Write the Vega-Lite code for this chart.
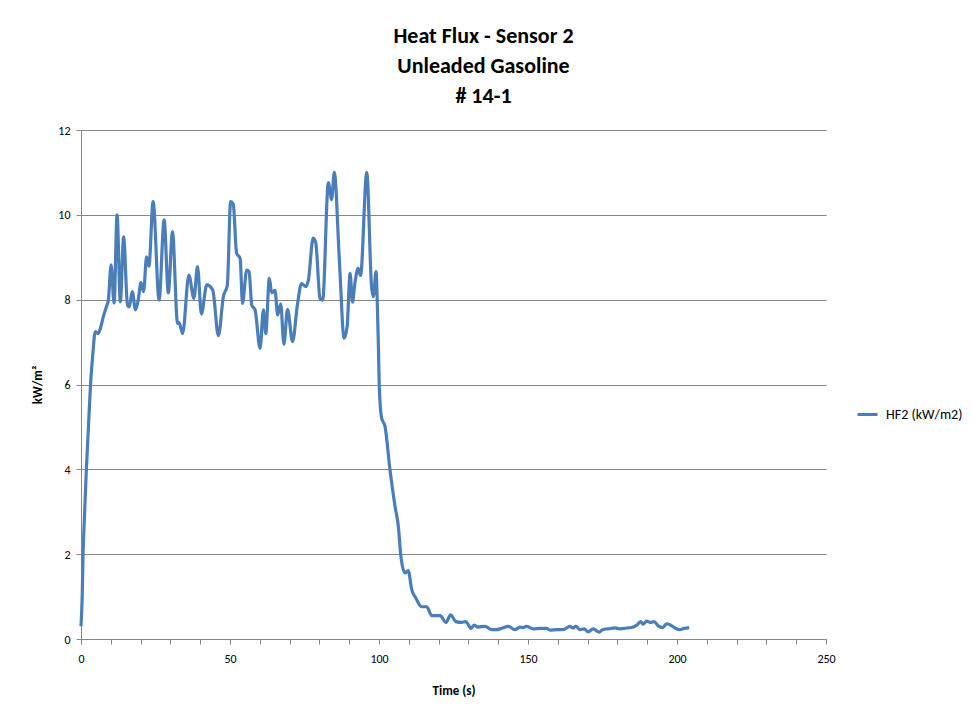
{
  "$schema": "https://vega.github.io/schema/vega-lite/v6.json",
  "width": 745,
  "height": 509,
  "autosize": {"type": "none"},
  "padding": {"left": 81, "top": 130, "right": 148, "bottom": 76},
  "background": "white",
  "config": {
    "view": {"stroke": null},
    "font": "Carlito, 'Liberation Sans Narrow', 'DejaVu Sans Condensed', Roboto, sans-serif"
  },
  "title": {
    "text": ["Heat Flux - Sensor 2", "Unleaded Gasoline", "# 14-1"],
    "fontSize": 22,
    "fontWeight": "bold",
    "color": "#000000",
    "lineHeight": 30,
    "anchor": "middle",
    "dx": 30,
    "offset": 16
  },
  "data": {
    "values": [
      {"t": 0, "v": 0.3}, {"t": 0.4, "v": 1.0}, {"t": 0.7, "v": 2.0}, {"t": 1.2, "v": 2.96}, {"t": 1.8, "v": 4.0},
      {"t": 2.5, "v": 5.0}, {"t": 3.2, "v": 6.0}, {"t": 3.9, "v": 6.66}, {"t": 4.8, "v": 7.25}, {"t": 5.7, "v": 7.2},
      {"t": 6.3, "v": 7.28}, {"t": 7.5, "v": 7.6}, {"t": 8.6, "v": 7.85}, {"t": 9.2, "v": 8.0}, {"t": 10.1, "v": 8.82},
      {"t": 11.1, "v": 7.92}, {"t": 12.1, "v": 10.0}, {"t": 13.2, "v": 7.95}, {"t": 14.3, "v": 9.48}, {"t": 15.6, "v": 7.87},
      {"t": 16.2, "v": 7.83}, {"t": 17.2, "v": 8.19}, {"t": 18.3, "v": 7.76}, {"t": 19.2, "v": 7.99}, {"t": 20.1, "v": 8.4},
      {"t": 21.0, "v": 8.19}, {"t": 22.0, "v": 9.01}, {"t": 22.8, "v": 8.79}, {"t": 24.2, "v": 10.31}, {"t": 26.2, "v": 7.99},
      {"t": 27.9, "v": 9.88}, {"t": 29.3, "v": 8.16}, {"t": 30.7, "v": 9.6}, {"t": 32.4, "v": 7.44}, {"t": 32.9, "v": 7.46},
      {"t": 34.1, "v": 7.2}, {"t": 36.2, "v": 8.58}, {"t": 37.9, "v": 8.03}, {"t": 39.1, "v": 8.78}, {"t": 40.4, "v": 7.66},
      {"t": 42.2, "v": 8.35}, {"t": 44.2, "v": 8.23}, {"t": 46.1, "v": 7.15}, {"t": 47.8, "v": 8.08}, {"t": 49.1, "v": 8.34},
      {"t": 50.2, "v": 10.31}, {"t": 51.1, "v": 10.25}, {"t": 52.2, "v": 9.1}, {"t": 53.4, "v": 8.97}, {"t": 54.2, "v": 7.91},
      {"t": 55.6, "v": 8.7}, {"t": 56.4, "v": 8.66}, {"t": 57.3, "v": 7.87}, {"t": 58.4, "v": 7.76}, {"t": 60.1, "v": 6.85},
      {"t": 61.2, "v": 7.76}, {"t": 62.0, "v": 7.2}, {"t": 63.2, "v": 8.5}, {"t": 64.0, "v": 8.16}, {"t": 65.1, "v": 8.22},
      {"t": 66.0, "v": 7.64}, {"t": 67.0, "v": 7.9}, {"t": 68.1, "v": 6.95}, {"t": 69.3, "v": 7.77}, {"t": 71.0, "v": 7.01},
      {"t": 72.6, "v": 7.87}, {"t": 74.0, "v": 8.38}, {"t": 75.5, "v": 8.31}, {"t": 76.3, "v": 8.46}, {"t": 77.9, "v": 9.45},
      {"t": 78.8, "v": 9.33}, {"t": 80.2, "v": 8.03}, {"t": 81.1, "v": 7.99}, {"t": 83.0, "v": 10.76}, {"t": 84.1, "v": 10.36},
      {"t": 85.0, "v": 11.0}, {"t": 86.7, "v": 8.93}, {"t": 88.3, "v": 7.09}, {"t": 89.3, "v": 7.36}, {"t": 90.3, "v": 8.62},
      {"t": 91.1, "v": 7.94}, {"t": 91.9, "v": 8.38}, {"t": 93.0, "v": 8.74}, {"t": 93.8, "v": 8.57}, {"t": 95.9, "v": 11.0},
      {"t": 97.5, "v": 8.31}, {"t": 98.1, "v": 8.07}, {"t": 99.0, "v": 8.66}, {"t": 99.4, "v": 8.0}, {"t": 99.8, "v": 6.89},
      {"t": 100.1, "v": 5.95}, {"t": 100.9, "v": 5.2}, {"t": 102.0, "v": 5.02}, {"t": 103.7, "v": 3.98}, {"t": 105.4, "v": 3.12},
      {"t": 106.5, "v": 2.65}, {"t": 107.3, "v": 1.98}, {"t": 108.7, "v": 1.56}, {"t": 109.8, "v": 1.61}, {"t": 111.0, "v": 1.16},
      {"t": 112.4, "v": 0.96}, {"t": 114.3, "v": 0.76}, {"t": 116.0, "v": 0.76}, {"t": 117.7, "v": 0.55}, {"t": 120.5, "v": 0.55},
      {"t": 122.5, "v": 0.39}, {"t": 124.0, "v": 0.57}, {"t": 125.8, "v": 0.41}, {"t": 127.7, "v": 0.39}, {"t": 129.1, "v": 0.41},
      {"t": 130.9, "v": 0.25}, {"t": 132.0, "v": 0.33}, {"t": 133.1, "v": 0.28}, {"t": 135.6, "v": 0.3}, {"t": 137.8, "v": 0.22},
      {"t": 139.4, "v": 0.22}, {"t": 141.1, "v": 0.25}, {"t": 143.4, "v": 0.3}, {"t": 145.6, "v": 0.22}, {"t": 147.3, "v": 0.28},
      {"t": 148.4, "v": 0.27}, {"t": 149.5, "v": 0.3}, {"t": 151.8, "v": 0.24}, {"t": 154.0, "v": 0.25}, {"t": 156.2, "v": 0.25},
      {"t": 157.4, "v": 0.21}, {"t": 159.6, "v": 0.22}, {"t": 161.8, "v": 0.22}, {"t": 164.1, "v": 0.3}, {"t": 165.0, "v": 0.26},
      {"t": 166.1, "v": 0.3}, {"t": 167.4, "v": 0.22}, {"t": 168.8, "v": 0.24}, {"t": 170.2, "v": 0.17}, {"t": 171.9, "v": 0.24},
      {"t": 173.9, "v": 0.16}, {"t": 175.0, "v": 0.22}, {"t": 176.9, "v": 0.24}, {"t": 179.2, "v": 0.26}, {"t": 180.8, "v": 0.24},
      {"t": 183.1, "v": 0.26}, {"t": 184.7, "v": 0.27}, {"t": 186.4, "v": 0.32}, {"t": 187.8, "v": 0.41}, {"t": 188.6, "v": 0.35},
      {"t": 189.8, "v": 0.42}, {"t": 191.1, "v": 0.39}, {"t": 192.3, "v": 0.41}, {"t": 193.7, "v": 0.31}, {"t": 195.2, "v": 0.27},
      {"t": 196.5, "v": 0.36}, {"t": 197.8, "v": 0.33}, {"t": 199.3, "v": 0.26}, {"t": 201.0, "v": 0.22}, {"t": 202.3, "v": 0.25},
      {"t": 204.1, "v": 0.27}
    ]
  },
  "mark": {"type": "line", "strokeWidth": 3.2, "interpolate": "monotone"},
  "encoding": {
    "x": {
      "field": "t",
      "type": "quantitative",
      "scale": {"domain": [0, 250], "nice": false, "zero": true},
      "axis": {
        "title": "Time (s)",
        "values": [0, 10, 20, 30, 40, 50, 60, 70, 80, 90, 100, 110, 120, 130, 140, 150, 160, 170, 180, 190, 200, 210, 220, 230, 240, 250],
        "labelExpr": "datum.value % 50 === 0 ? datum.label : ''",
        "grid": false,
        "domainColor": "#878787",
        "tickColor": "#878787",
        "tickSize": 5,
        "labelFontSize": 12,
        "labelColor": "#000000",
        "labelPadding": 9,
        "labelFlush": false,
        "titleFontSize": 13,
        "titleFontWeight": "bold",
        "titleColor": "#000000",
        "titlePadding": 20
      }
    },
    "y": {
      "field": "v",
      "type": "quantitative",
      "scale": {"domain": [0, 12], "nice": false},
      "axis": {
        "title": "kW/m²",
        "values": [0, 2, 4, 6, 8, 10, 12],
        "grid": true,
        "gridColor": "#878787",
        "gridWidth": 1,
        "domainColor": "#878787",
        "tickColor": "#878787",
        "tickSize": 5,
        "labelFontSize": 12,
        "labelColor": "#000000",
        "labelPadding": 6,
        "titleFontSize": 13,
        "titleFontWeight": "bold",
        "titleColor": "#000000",
        "titlePadding": 13
      }
    },
    "color": {
      "datum": "HF2 (kW/m2)",
      "type": "nominal",
      "scale": {"range": ["#4A7EBB"]},
      "legend": {
        "title": null,
        "orient": "none",
        "legendX": 775,
        "legendY": 273,
        "symbolType": "stroke",
        "symbolSize": 400,
        "symbolStrokeWidth": 3,
        "labelFontSize": 14,
        "labelColor": "#000000",
        "labelOffset": 7
      }
    }
  }
}
